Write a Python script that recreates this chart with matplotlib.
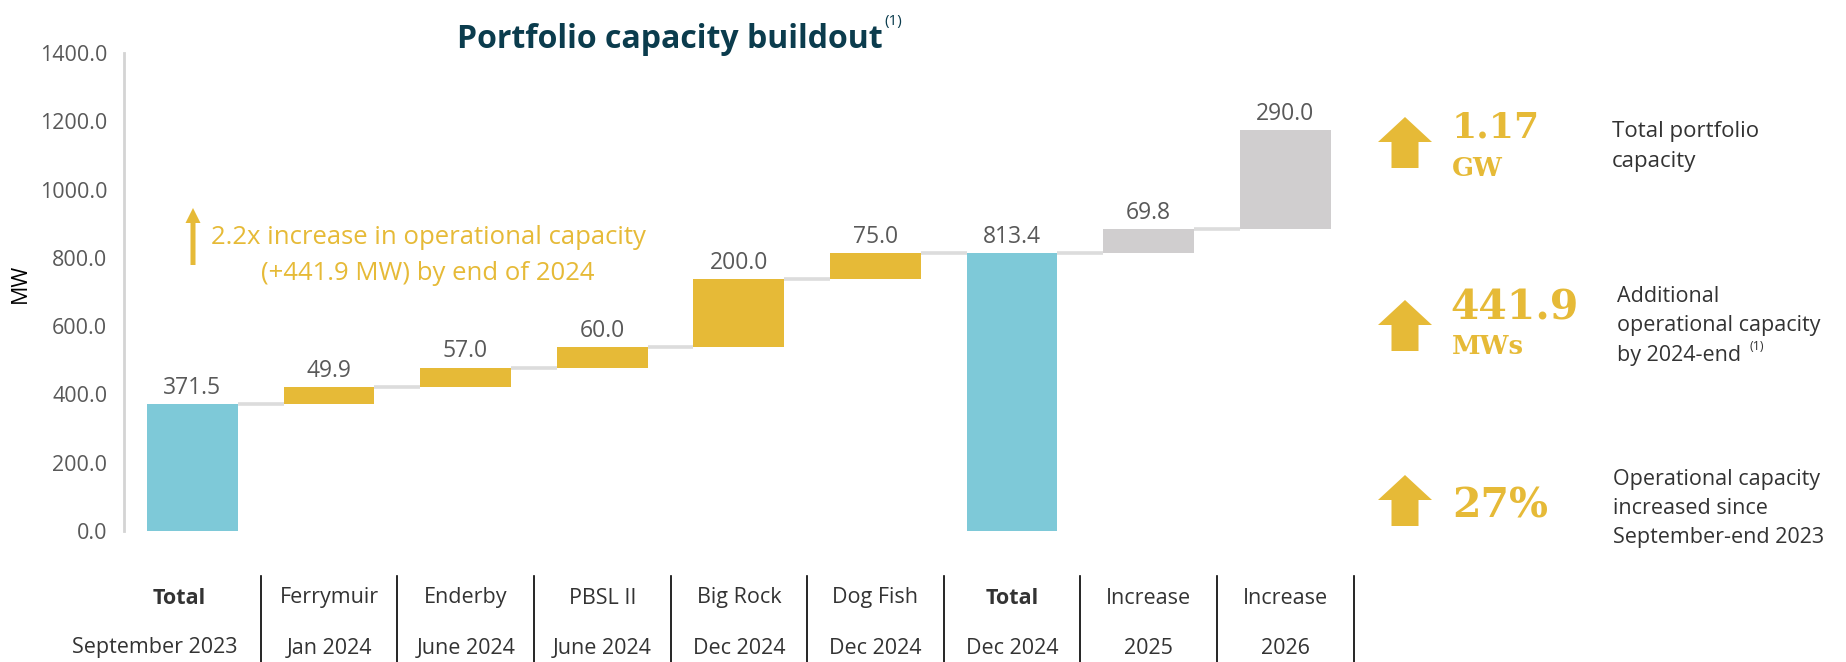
import matplotlib
matplotlib.use("Agg")
import matplotlib.pyplot as plt
from matplotlib.patches import FancyArrow

plt.rcParams['font.family'] = ['Open Sans', 'DejaVu Sans']

# ---------------- data ----------------
cat_top = ["Total", "Ferrymuir", "Enderby", "PBSL II", "Big Rock", "Dog Fish",
           "Total", "Increase", "Increase"]
cat_bottom = ["September 2023", "Jan 2024", "June 2024", "June 2024", "Dec 2024",
              "Dec 2024", "Dec 2024", "2025", "2026"]
values = [371.5, 49.9, 57.0, 60.0, 200.0, 75.0, 813.4, 69.8, 290.0]
kinds = ["total", "add", "add", "add", "add", "add", "total", "future", "future"]
y_ticks = [0, 200, 400, 600, 800, 1000, 1200, 1400]

# ---------------- styles ----------------
W, H = 1846, 662
TEAL = "#7EC9D8"
GOLD = "#E6BA37"
GREY = "#D0CECF"
CONN = "#DCDCDC"
LABEL = "#595959"
TEXT = "#333333"
TITLE = "#0B3C4D"
colors = {"total": TEAL, "add": GOLD, "future": GREY}

fig = plt.figure(figsize=(W / 100, H / 100), dpi=100)

# main axes in pixel layout
ax_left, ax_top, ax_bottom = 124, 53, 531
x_step = 136.6
x0_center = 192.5
ax_right = x0_center + 8.5 * x_step
ax = fig.add_axes([ax_left / W, 1 - ax_bottom / H, (ax_right - ax_left) / W,
                   (ax_bottom - ax_top) / H])

n = len(values)
xs = list(range(n))
bottoms = []
running = 0.0
for v, k in zip(values, kinds):
    if k == "total":
        bottoms.append(0.0)
        running = v
    else:
        bottoms.append(running)
        running += v

bw = 0.665
ax.bar(xs, values, bottom=bottoms, width=bw,
       color=[colors[k] for k in kinds], edgecolor="none", zorder=3)

# connectors
for i in range(n - 1):
    lvl = bottoms[i] + values[i]
    ax.plot([i + bw / 2, i + 1 - bw / 2], [lvl, lvl], color=CONN, lw=2.6,
            solid_capstyle="butt", zorder=2)

# value labels
for i in range(n):
    ax.annotate(f"{values[i]:.1f}", (i, bottoms[i] + values[i]),
                xytext=(0, 3), textcoords="offset points", ha="center",
                va="bottom", fontsize=16.5, color=LABEL)

ax.set_xlim(-0.5, 8.5)
ax.set_ylim(0, 1400)
ax.set_yticks(y_ticks)
ax.set_yticklabels([f"{t:.1f}" for t in y_ticks], fontsize=15.5, color=LABEL)
ax.tick_params(axis="y", length=0, pad=12)
ax.set_xticks([])
for s in ["top", "right", "bottom"]:
    ax.spines[s].set_visible(False)
ax.spines["left"].set_color("#D4D4D4")
ax.spines["left"].set_linewidth(2)

# overlay axes in pixel coordinates
ov = fig.add_axes([0, 0, 1, 1])
ov.set_xlim(0, W)
ov.set_ylim(H, 0)
ov.axis("off")
ov.patch.set_alpha(0)

def px(i):
    return x0_center + i * x_step

ov.text(20, 283, "MW", rotation=90, ha="center", va="center", fontsize=15.5,
        color="black")

# title
ov.text(670, 40, "Portfolio capacity buildout", ha="center", va="center",
        fontsize=23, fontweight="bold", color=TITLE)
ov.text(884, 22, "(1)", ha="left", va="center", fontsize=11, color=TITLE)

# annotation inside chart
ov.add_patch(FancyArrow(193, 265, 0, -57, width=5, head_width=15,
                        head_length=15, length_includes_head=True,
                        color=GOLD, lw=0))
ov.text(428, 238, "2.2x increase in operational capacity", ha="center",
        va="center", fontsize=18.5, color=GOLD)
ov.text(428, 273, "(+441.9 MW) by end of 2024", ha="center", va="center",
        fontsize=18.5, color=GOLD)

# table below
seps = [px(i + 0.5) for i in range(n)]
for sx in seps:
    ov.plot([sx, sx], [576, H], color="black", lw=1.2)
for i in range(n):
    if i == 0:
        cx_top, cx_bot = px(-0.1), px(-0.275)
    else:
        cx_top = cx_bot = (seps[i - 1] + seps[i]) / 2
    bold = cat_top[i] == "Total"
    ov.text(cx_top, 598, cat_top[i], ha="center", va="center", fontsize=15.5,
            fontweight="bold" if bold else "normal", color=TEXT)
    ov.text(cx_bot, 648, cat_bottom[i], ha="center", va="center", fontsize=15.5,
            color=TEXT)

# right panel
def block_arrow(top, base, bottom):
    ov.add_patch(FancyArrow(1405, bottom, 0, -(bottom - top), width=27,
                            head_width=54, head_length=base - top,
                            length_includes_head=True, color=GOLD, lw=0))

SERIF = ["DejaVu Serif"]
block_arrow(117, 142, 168)
ov.text(1452, 127, "1.17", ha="left", va="center", fontsize=26,
        fontweight="bold", color=GOLD, family=SERIF)
ov.text(1452, 168, "GW", ha="left", va="center", fontsize=18.5,
        fontweight="bold", color=GOLD, family=SERIF)
ov.text(1612, 131, "Total portfolio", ha="left", va="center", fontsize=16,
        color=TEXT)
ov.text(1612, 161, "capacity", ha="left", va="center", fontsize=16,
        color=TEXT)

block_arrow(300, 325, 351)
ov.text(1450, 309, "441.9", ha="left", va="center", fontsize=29.5,
        fontweight="bold", color=GOLD, family=SERIF)
ov.text(1452, 347, "MWs", ha="left", va="center", fontsize=18.5,
        fontweight="bold", color=GOLD, family=SERIF)
ov.text(1617, 297, "Additional", ha="left", va="center", fontsize=15.5,
        color=TEXT)
ov.text(1617, 326, "operational capacity", ha="left", va="center",
        fontsize=15.5, color=TEXT)
ov.text(1617, 355, "by 2024-end", ha="left", va="center", fontsize=15.5,
        color=TEXT)
ov.text(1750, 347, "(1)", ha="left", va="center", fontsize=9, color=TEXT)

block_arrow(475, 500, 526)
ov.text(1452, 506, "27%", ha="left", va="center", fontsize=29.5,
        fontweight="bold", color=GOLD, family=SERIF)
ov.text(1613, 479, "Operational capacity", ha="left", va="center",
        fontsize=15.5, color=TEXT)
ov.text(1613, 508, "increased since", ha="left", va="center", fontsize=15.5,
        color=TEXT)
ov.text(1613, 537, "September-end 2023", ha="left", va="center",
        fontsize=15.5, color=TEXT)

fig.savefig("out.png", dpi=100)
